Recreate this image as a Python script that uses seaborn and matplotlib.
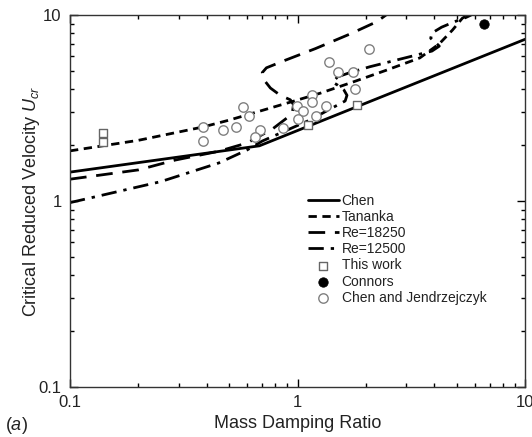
import matplotlib
matplotlib.use("Agg")
import matplotlib.pyplot as plt
import seaborn as sns
import numpy as np
from matplotlib.ticker import LogLocator, FixedLocator, FixedFormatter, NullFormatter

sns.set_theme(style="ticks")
plt.rcParams['font.family'] = ['Liberation Sans', 'DejaVu Sans']
plt.rcParams['mathtext.fontset'] = 'custom'
plt.rcParams['mathtext.it'] = 'Liberation Sans:italic'
plt.rcParams['mathtext.rm'] = 'Liberation Sans'

# ---- data ----
chen_x = [0.1, 0.68, 10.0]
chen_y = [1.43, 1.98, 7.4]

tan_x = [0.1, 0.2, 0.384, 0.5, 0.93, 1.26, 1.76, 2.47, 3.45, 4.2, 4.8, 5.3, 5.6]
tan_y = [1.86, 2.12, 2.5, 2.72, 3.4, 3.8, 4.37, 5.06, 5.88, 7.0, 8.3, 9.6, 10.0]

re18_x = [0.1, 0.2, 0.29, 0.45, 0.6, 0.78, 0.9, 0.95, 0.96, 0.93, 0.84, 0.76, 0.71, 0.70, 0.73, 0.88, 1.2, 1.7, 2.23, 2.45]
re18_y = [1.31, 1.47, 1.66, 1.85, 2.05, 2.45, 2.8, 3.0, 3.3, 3.5, 3.7, 4.05, 4.5, 4.9, 5.2, 5.7, 6.6, 7.9, 9.2, 10.0]

re12_x = [0.1, 0.25, 0.45, 0.6, 0.7, 1.13, 1.5, 1.62, 1.65, 1.6, 1.5, 1.43, 1.5, 1.7, 2.08, 3.12, 3.9, 4.2, 4.05, 3.85, 3.9, 4.3, 4.9, 5.5, 5.8]
re12_y = [0.98, 1.27, 1.6, 1.88, 2.1, 2.72, 3.28, 3.45, 3.7, 3.95, 4.2, 4.35, 4.65, 4.9, 5.27, 5.97, 6.4, 6.8, 7.1, 7.5, 8.0, 8.6, 9.2, 9.7, 10.0]

work_x = [0.139, 0.139, 1.116, 1.82]
work_y = [2.31, 2.08, 2.56, 3.28]

connors_x = [6.6]
connors_y = [9.0]

cj_x = [0.385, 0.385, 0.469, 0.535, 0.574, 0.612, 0.684, 0.653, 0.866, 0.992, 1.06, 1.01,
        1.155, 1.16, 1.21, 1.34, 1.38, 1.51, 1.76, 1.79, 2.07]
cj_y = [2.51, 2.11, 2.41, 2.51, 3.19, 2.86, 2.41, 2.22, 2.46, 3.24, 3.05, 2.75,
        3.71, 3.42, 2.86, 3.24, 5.6, 4.96, 4.96, 3.98, 6.53]

xticks = [0.1, 1, 10]
xtick_labels = ["0.1", "1", "10"]
yticks = [0.1, 1, 10]
ytick_labels = ["0.1", "1", "10"]

# ---- figure ----
fig = plt.figure(figsize=(5.32, 4.37), dpi=100)
ax = fig.add_axes([70/532, 1-387/437, (525-70)/532, (387-15)/437])

lw = 2.0
sns.lineplot(x=chen_x, y=chen_y, ax=ax, color="black", lw=lw, sort=False, estimator=None, label="Chen")
sns.lineplot(x=tan_x, y=tan_y, ax=ax, color="black", lw=lw, sort=False, estimator=None, label="Tananka")
sns.lineplot(x=re18_x, y=re18_y, ax=ax, color="black", lw=lw, sort=False, estimator=None, label="Re=18250")
sns.lineplot(x=re12_x, y=re12_y, ax=ax, color="black", lw=lw, sort=False, estimator=None, label="Re=12500")
lines = ax.get_lines()
lines[1].set_dashes([3.0, 2.0])
lines[2].set_dashes([6.0, 3.5])
lines[3].set_dashes([5.5, 2.5, 1.2, 2.5])

sns.scatterplot(x=work_x, y=work_y, ax=ax, marker="s", s=36, facecolor="white",
                edgecolor="#666666", linewidth=1.0, label="This work", zorder=5)
sns.scatterplot(x=connors_x, y=connors_y, ax=ax, marker="o", s=46, color="black",
                edgecolor="black", label="Connors", zorder=5)
sns.scatterplot(x=cj_x, y=cj_y, ax=ax, marker="o", s=46, facecolor="white",
                edgecolor="#808080", linewidth=1.0, label="Chen and Jendrzejczyk", zorder=5)

ax.set_xscale("log")
ax.set_yscale("log")
ax.set_xlim(0.1, 10)
ax.set_ylim(0.1, 10)

ax.xaxis.set_major_locator(FixedLocator(xticks))
ax.xaxis.set_major_formatter(FixedFormatter(xtick_labels))
ax.yaxis.set_major_locator(FixedLocator(yticks))
ax.yaxis.set_major_formatter(FixedFormatter(ytick_labels))
ax.xaxis.set_minor_locator(LogLocator(base=10, subs=np.arange(2, 10)))
ax.yaxis.set_minor_locator(LogLocator(base=10, subs=np.arange(2, 10)))
ax.xaxis.set_minor_formatter(NullFormatter())
ax.yaxis.set_minor_formatter(NullFormatter())

ax.tick_params(which="both", direction="in", top=True, right=True, color="black",
               labelsize=12, labelcolor="#222222", width=1.0)
ax.tick_params(which="major", length=6, pad=6)
ax.tick_params(which="minor", length=3)
for sp in ax.spines.values():
    sp.set_color("#333333")
    sp.set_linewidth(1.0)

ax.set_xlabel("Mass Damping Ratio", fontsize=13, color="#222222", labelpad=3)
ax.set_ylabel(r"Critical Reduced Velocity $U_{cr}$", fontsize=13, color="#222222")
ax.yaxis.set_label_coords(-0.062, 0.5)

leg = ax.legend(loc="upper left", bbox_to_anchor=(0.522, 0.52), frameon=False,
                fontsize=10, handlelength=2.3, handletextpad=0.15, labelspacing=0.16,
                borderpad=0.0, borderaxespad=0.0, labelcolor="#222222")

fig.text(5/532, 1-426/437, r"($\it{a}$)", fontsize=13, color="#222222", va="center")

fig.savefig("out.png", dpi=100)
